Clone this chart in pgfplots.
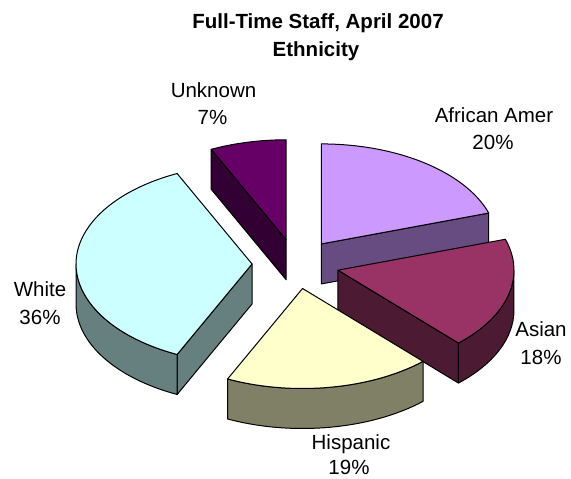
\documentclass[border=0pt]{standalone}
\usepackage{pgfplots}
\usepackage{pgfplotstable}
\pgfplotsset{compat=1.18}
\usepackage{fontspec}
\setmainfont{Liberation Sans}
\definecolor{aaTop}{HTML}{CC99FF}
\definecolor{aaSide}{HTML}{664C80}
\definecolor{asTop}{HTML}{993366}
\definecolor{asSide}{HTML}{4D1A33}
\definecolor{hiTop}{HTML}{FFFFCC}
\definecolor{hiSide}{HTML}{808066}
\definecolor{whTop}{HTML}{CCFFFF}
\definecolor{whSide}{HTML}{668080}
\definecolor{unTop}{HTML}{660066}
\definecolor{unSide}{HTML}{330033}

\pgfplotstableread{
label value
AfricanAmer 20
Asian 18
Hispanic 19
White 36
Unknown 7
}\ethtable

% slice: #1 start angle, #2 end angle (clockwise from 12 o'clock), #3 top colour, #4 side colour
\newcommand\drawslice[4]{%
  \pgfmathsetmacro\sMid{(#1+#2)/2}%
  \pgfmathsetmacro\ox{295.7+0.248*176*sin(\sMid)}%
  \pgfmathsetmacro\oy{215+0.248*100*cos(\sMid)}%
  \pgfmathsetmacro\oyd{\oy-40}%
  \pgfmathsetmacro\ax{\ox+176*sin(#1)}%
  \pgfmathsetmacro\ay{\oy+100*cos(#1)}%
  \pgfmathsetmacro\ayd{\ay-40}%
  \pgfmathsetmacro\bx{\ox+176*sin(#2)}%
  \pgfmathsetmacro\by{\oy+100*cos(#2)}%
  \pgfmathsetmacro\byd{\by-40}%
  \pgfmathsetmacro\sa{90-#1}%
  \pgfmathsetmacro\ea{90-#2}%
  % start face
  \pgfmathtruncatemacro\visS{sin(#1)<-0.01 ? 1 : 0}%
  \ifnum\visS=1
    \edef\tmp{\noexpand\filldraw[fill=#4, draw=black, line width=1pt, line join=round] (axis cs:\ox,\oy) -- (axis cs:\ax,\ay) -- (axis cs:\ax,\ayd) -- (axis cs:\ox,\oyd) -- cycle;}\tmp
  \fi
  % end face
  \pgfmathtruncatemacro\visE{sin(#2)>0.01 ? 1 : 0}%
  \ifnum\visE=1
    \edef\tmp{\noexpand\filldraw[fill=#4, draw=black, line width=1pt, line join=round] (axis cs:\ox,\oy) -- (axis cs:\bx,\by) -- (axis cs:\bx,\byd) -- (axis cs:\ox,\oyd) -- cycle;}\tmp
  \fi
  % outer wall
  \pgfmathsetmacro\wa{max(#1,90)}%
  \pgfmathsetmacro\wb{min(#2,270)}%
  \pgfmathtruncatemacro\hasWall{\wa<\wb ? 1 : 0}%
  \ifnum\hasWall=1
    \pgfmathsetmacro\wx{\ox+176*sin(\wa)}%
    \pgfmathsetmacro\wy{\oy+100*cos(\wa)}%
    \pgfmathsetmacro\wsa{90-\wa}%
    \pgfmathsetmacro\wea{90-\wb}%
    \edef\tmp{\noexpand\filldraw[fill=#4, draw=black, line width=1pt, line join=round] (axis cs:\wx,\wy) arc[start angle=\wsa, end angle=\wea, x radius=176pt, y radius=100pt] -- ++(0pt,-40pt) arc[start angle=\wea, end angle=\wsa, x radius=176pt, y radius=100pt] -- cycle;}\tmp
  \fi
  % top face
  \edef\tmp{\noexpand\filldraw[fill=#3, draw=black, line width=1pt, line join=round] (axis cs:\ox,\oy) -- (axis cs:\ax,\ay) arc[start angle=\sa, end angle=\ea, x radius=176pt, y radius=100pt] -- cycle;}\tmp
}

\begin{document}
\begin{tikzpicture}
\pgfplotstablegetelem{0}{value}\of\ethtable\edef\vAA{\pgfplotsretval}%
\pgfplotstablegetelem{1}{value}\of\ethtable\edef\vAS{\pgfplotsretval}%
\pgfplotstablegetelem{2}{value}\of\ethtable\edef\vHI{\pgfplotsretval}%
\pgfplotstablegetelem{3}{value}\of\ethtable\edef\vWH{\pgfplotsretval}%
\pgfplotstablegetelem{4}{value}\of\ethtable\edef\vUN{\pgfplotsretval}%
\pgfmathsetmacro\tAA{0}%
\pgfmathsetmacro\tAS{\tAA+3.6*\vAA}%
\pgfmathsetmacro\tHI{\tAS+3.6*\vAS}%
\pgfmathsetmacro\tWH{\tHI+3.6*\vHI}%
\pgfmathsetmacro\tUN{\tWH+3.6*\vWH}%
\pgfmathsetmacro\tEND{\tUN+3.6*\vUN}%
\begin{axis}[
  width=571pt, height=479pt, scale only axis,
  xmin=0, xmax=571, ymin=0, ymax=479,
  hide axis, clip=false,
  at={(0pt,0pt)}, anchor=south west,
]
\addplot[draw=none, mark=none, forget plot] table[x expr=\coordindex, y=value] {\ethtable};
\drawslice{\tUN}{\tEND}{unTop}{unSide}
\drawslice{\tAA}{\tAS}{aaTop}{aaSide}
\drawslice{\tWH}{\tUN}{whTop}{whSide}
\drawslice{\tAS}{\tHI}{asTop}{asSide}
\drawslice{\tHI}{\tWH}{hiTop}{hiSide}

\node[anchor=base, font=\fontsize{20.5}{24}\selectfont\bfseries] at (axis cs:318,450) {Full-Time Staff, April 2007};
\node[anchor=base, font=\fontsize{20.5}{24}\selectfont\bfseries] at (axis cs:316,422) {Ethnicity};

\node[anchor=base, font=\fontsize{20.5}{24}\selectfont] at (axis cs:213.5,381) {Unknown};
\node[anchor=base, font=\fontsize{20.5}{24}\selectfont] at (axis cs:212.5,354) {7\%};
\node[anchor=base, font=\fontsize{20.5}{24}\selectfont] at (axis cs:494,356) {African Amer};
\node[anchor=base, font=\fontsize{20.5}{24}\selectfont] at (axis cs:493,329) {20\%};
\node[anchor=base, font=\fontsize{20.5}{24}\selectfont] at (axis cs:541,142) {Asian};
\node[anchor=base, font=\fontsize{20.5}{24}\selectfont] at (axis cs:541,114) {18\%};
\node[anchor=base, font=\fontsize{20.5}{24}\selectfont] at (axis cs:351,29) {Hispanic};
\node[anchor=base, inner sep=0pt, font=\fontsize{20.5}{24}\selectfont] at (axis cs:349,4) {19\%};
\node[anchor=base, font=\fontsize{20.5}{24}\selectfont] at (axis cs:40,182) {White};
\node[anchor=base, font=\fontsize{20.5}{24}\selectfont] at (axis cs:40,154) {36\%};
\end{axis}
\pgfresetboundingbox
\useasboundingbox (0pt,0pt) rectangle (571pt,479pt);
\end{tikzpicture}
\end{document}
